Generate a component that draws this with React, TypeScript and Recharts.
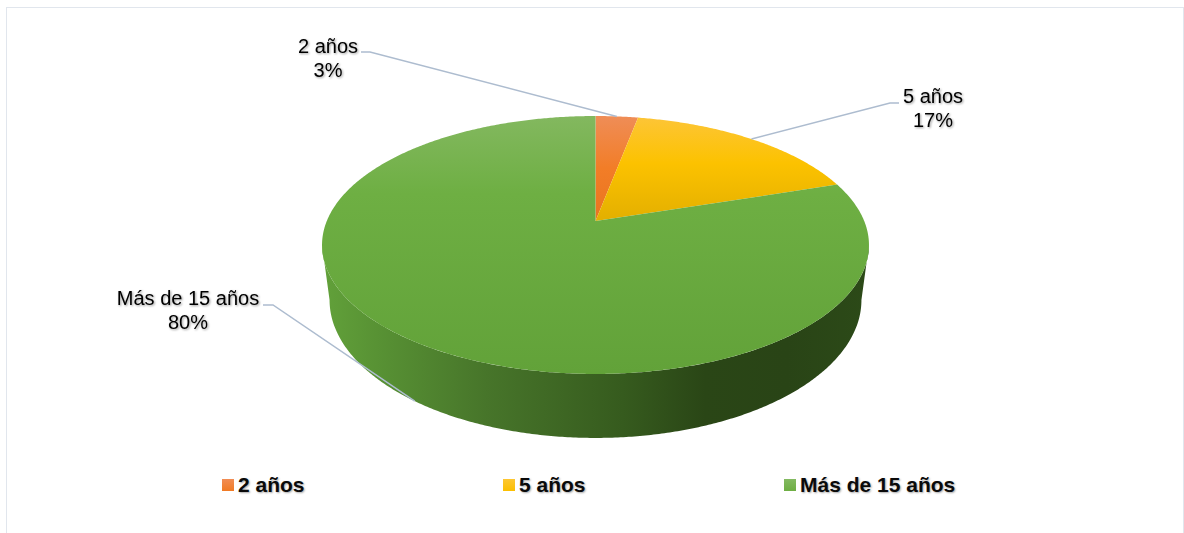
import React from "react";
import { PieChart, Pie, Legend } from "recharts";

const categories = ["2 años", "5 años", "Más de 15 años"];
const shares = [3, 17, 80];
const tableData = categories.map((name, i) => ({ name, value: shares[i] }));

const FONT = '"Liberation Sans", Arial, sans-serif';
const W = 1184;
const H = 533;

const PIE_CX = 595.5;
const PIE_CY = 221;
const PIE_R = 268.7;
const PERSPECTIVE = 0.186;
const TOP_HEIGHT = 124.5;
const BOTTOM_CY = 274.3;
const BOTTOM_HEIGHT = 133.2;
const BOTTOM_R = 261.3;

const topGradients = ["gradOrange", "gradYellow", "gradGreen"];
const legendSwatches = [
  "linear-gradient(#f18d55,#f07a24)",
  "linear-gradient(#fdc733,#fbbf00)",
  "linear-gradient(#84ba62,#6eae43)",
];
const legendLefts = [222, 503, 784];

const labelLayout = [
  { x: 328, y: 53, elbow: [370, 52], start: [361, 52], onBottom: false },
  { x: 933, y: 103, elbow: [890, 103], start: [899, 103], onBottom: false },
  { x: 188, y: 305, elbow: [273, 305], start: [263, 305], onBottom: true },
];

function project(angle: number, cx: number, cy: number, r: number, height: number) {
  const t = ((90 - angle) * Math.PI) / 180;
  const u = Math.sin(t);
  const v = Math.cos(t);
  const d = 1 + PERSPECTIVE * v;
  return { x: cx + (r * u) / d, y: cy - (height * v) / d };
}

function arcPoints(a0: number, a1: number, cx: number, cy: number, r: number, height: number) {
  const n = Math.max(2, Math.ceil(Math.abs(a1 - a0) * 2));
  const pts: { x: number; y: number }[] = [];
  for (let i = 0; i <= n; i++) {
    pts.push(project(a0 + ((a1 - a0) * i) / n, cx, cy, r, height));
  }
  return pts;
}

const toPath = (pts: { x: number; y: number }[]) =>
  pts.map((p, i) => `${i ? "L" : "M"}${p.x.toFixed(2)} ${p.y.toFixed(2)}`).join(" ");

const WALL_START = -10.7;
const WALL_END = -169.3;

function Slice(props: any) {
  const { cx, cy, outerRadius, startAngle, endAngle, index } = props;
  const top = arcPoints(startAngle, endAngle, cx, cy, outerRadius, TOP_HEIGHT);
  const s = Math.min(startAngle, WALL_START);
  const e = Math.max(endAngle, WALL_END);
  let wall = null;
  if (s > e) {
    const upper = arcPoints(s, e, cx, cy, outerRadius, TOP_HEIGHT);
    const lower = arcPoints(e, s, cx, BOTTOM_CY, BOTTOM_R, BOTTOM_HEIGHT);
    wall = <path d={toPath([...upper, ...lower]) + " Z"} fill="url(#gradWall)" />;
  }
  return (
    <g>
      {wall}
      <path
        d={`${toPath(top)} L${cx} ${cy} Z`}
        fill={`url(#${topGradients[index]})`}
      />
    </g>
  );
}

function SliceLabel(props: any) {
  const { cx, cy, midAngle, outerRadius, index, name, value } = props;
  const l = labelLayout[index];
  const end = l.onBottom
    ? project(midAngle, cx, BOTTOM_CY, BOTTOM_R, BOTTOM_HEIGHT)
    : project(midAngle, cx, cy, outerRadius, TOP_HEIGHT);
  return (
    <g>
      <polyline
        points={`${l.start[0]},${l.start[1]} ${l.elbow[0]},${l.elbow[1]} ${end.x},${end.y}`}
        fill="none"
        stroke="#adbccf"
        strokeWidth={1.5}
      />
      <g filter="url(#textShadow)">
        <text x={l.x} y={l.y} textAnchor="middle" fontFamily={FONT} fontSize={20} fill="#000">
          {name}
        </text>
        <text x={l.x} y={l.y + 24} textAnchor="middle" fontFamily={FONT} fontSize={20} fill="#000">
          {value}%
        </text>
      </g>
    </g>
  );
}

function LegendBody(props: any) {
  const items = props.payload || [];
  return (
    <div style={{ position: "relative", width: W, height: 30 }}>
      {items.map((it: any, i: number) => (
        <div
          key={it.value}
          style={{
            position: "absolute",
            left: legendLefts[i],
            top: 0,
            height: 30,
            display: "flex",
            alignItems: "center",
            whiteSpace: "nowrap",
          }}
        >
          <span
            style={{
              display: "inline-block",
              width: 12,
              height: 12,
              marginRight: 4,
              background: legendSwatches[i],
            }}
          />
          <span
            style={{
              fontFamily: FONT,
              fontWeight: 700,
              fontSize: 21,
              color: "#0a0a0a",
              textShadow: "1px 1px 2px rgba(0,0,0,0.35)",
            }}
          >
            {it.value}
          </span>
        </div>
      ))}
    </div>
  );
}

export default function App() {
  return (
    <div
      style={{
        position: "absolute",
        left: 0,
        top: 0,
        width: W,
        height: H,
        overflow: "hidden",
        background: "#fff",
      }}
    >
      <div
        style={{
          position: "absolute",
          left: 6,
          top: 7,
          width: 1176,
          height: 560,
          border: "1.5px solid #e1e6ed",
        }}
      />
      <div style={{ position: "absolute", left: 0, top: 0 }}>
        <PieChart width={W} height={H} margin={{ top: 0, right: 0, bottom: 0, left: 0 }}>
          <defs>
            <linearGradient id="gradGreen" gradientUnits="userSpaceOnUse" x1="0" y1="116" x2="0" y2="374">
              <stop offset="0" stopColor="#83b85f" />
              <stop offset="0.3" stopColor="#6eaf43" />
              <stop offset="1" stopColor="#62a239" />
            </linearGradient>
            <linearGradient id="gradOrange" gradientUnits="userSpaceOnUse" x1="0" y1="116" x2="0" y2="221">
              <stop offset="0" stopColor="#ef8d57" />
              <stop offset="0.5" stopColor="#f27d27" />
              <stop offset="1" stopColor="#e97420" />
            </linearGradient>
            <linearGradient id="gradYellow" gradientUnits="userSpaceOnUse" x1="0" y1="116" x2="0" y2="221">
              <stop offset="0" stopColor="#fdc538" />
              <stop offset="0.45" stopColor="#fcc200" />
              <stop offset="1" stopColor="#e3af00" />
            </linearGradient>
            <linearGradient id="gradWall" gradientUnits="userSpaceOnUse" x1="322" y1="0" x2="869" y2="0">
              <stop offset="0" stopColor="#62a13a" />
              <stop offset="0.1" stopColor="#589234" />
              <stop offset="0.3" stopColor="#47752a" />
              <stop offset="0.55" stopColor="#365b1e" />
              <stop offset="0.7" stopColor="#2a4616" />
              <stop offset="0.85" stopColor="#294416" />
              <stop offset="1" stopColor="#2c4a18" />
            </linearGradient>
            <filter id="textShadow" x="-20%" y="-20%" width="140%" height="150%">
              <feGaussianBlur in="SourceGraphic" stdDeviation="0.3" result="soft" />
              <feDropShadow in="soft" dx="1" dy="1" stdDeviation="1" floodColor="#000" floodOpacity="0.4" />
            </filter>
          </defs>
          <Pie
            data={tableData}
            dataKey="value"
            nameKey="name"
            cx={PIE_CX}
            cy={PIE_CY}
            innerRadius={0}
            outerRadius={PIE_R}
            startAngle={90}
            endAngle={-270}
            paddingAngle={0}
            stroke="none"
            isAnimationActive={false}
            shape={Slice}
            label={SliceLabel}
            labelLine={false}
            fill="#70ad47"
          />
          <Legend
            content={LegendBody}
            wrapperStyle={{ left: 0, top: 470, width: W, height: 30, margin: 0 }}
          />
        </PieChart>
      </div>
    </div>
  );
}
